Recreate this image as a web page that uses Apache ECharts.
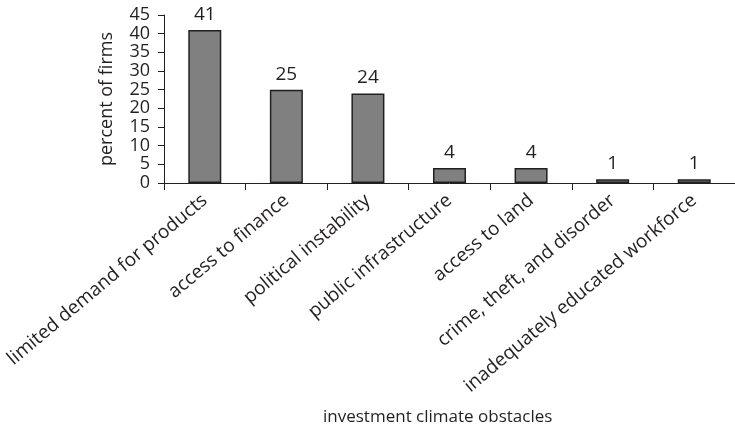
<!DOCTYPE html>
<html>
<head>
<meta charset="utf-8">
<script src="https://cdn.jsdelivr.net/npm/echarts@6/dist/echarts.min.js"></script>
<style>
  html, body { margin: 0; padding: 0; background: #fff; }
  #chart { width: 735px; height: 435px; }
</style>
</head>
<body>
<div id="chart"></div>
<script>
// Share of firms naming each obstacle as the biggest in the investment climate
const categories = [
  'limited demand for products',
  'access to finance',
  'political instability',
  'public infrastructure',
  'access to land',
  'crime, theft, and disorder',
  'inadequately educated workforce'
];
const percentOfFirms = [41, 25, 24, 4, 4, 1, 1];
const yTicks = { min: 0, max: 45, interval: 5 };

const ink = '#231f20';
const font = '"Open Sans", "Noto Sans", sans-serif';

const chart = echarts.init(document.getElementById('chart'), null, { renderer: 'canvas' });
chart.setOption({
  animation: false,
  backgroundColor: '#ffffff',
  textStyle: { fontFamily: font, color: ink },
  grid: { left: 164, top: 15, width: 577, height: 168, containLabel: false },
  xAxis: {
    type: 'category',
    data: categories,
    boundaryGap: true,
    axisLine: { lineStyle: { color: ink, width: 1 } },
    axisTick: { show: true, alignWithLabel: false, length: 7, lineStyle: { color: ink, width: 1 } },
    axisLabel: {
      interval: 0,
      rotate: 40,
      margin: 15,
      fontSize: 19,
      fontFamily: font,
      color: ink
    }
  },
  yAxis: {
    type: 'value',
    min: yTicks.min,
    max: yTicks.max,
    interval: yTicks.interval,
    name: 'percent of firms',
    nameLocation: 'middle',
    nameGap: 48,
    nameTextStyle: { fontSize: 18, fontFamily: font, color: ink },
    splitLine: { show: false },
    axisLine: { show: true, lineStyle: { color: ink, width: 1 } },
    axisTick: { show: true, length: 6, lineStyle: { color: ink, width: 1 } },
    axisLabel: {
      margin: 14,
      fontSize: 18,
      lineHeight: 14,
      fontFamily: font,
      color: ink,
      showMinLabel: true,
      showMaxLabel: true,
      hideOverlap: false
    }
  },
  graphic: [{
    type: 'text',
    left: 323,
    top: 409,
    style: {
      text: 'investment climate obstacles',
      font: '17px ' + font,
      fill: ink
    }
  }],
  series: [{
    type: 'bar',
    data: percentOfFirms,
    barWidth: 33,
    itemStyle: { color: '#808080', borderColor: ink, borderWidth: 1.5 },
    label: {
      show: true,
      position: 'top',
      distance: 6,
      fontSize: 19,
      fontFamily: font,
      color: ink
    }
  }]
});
</script>
</body>
</html>
